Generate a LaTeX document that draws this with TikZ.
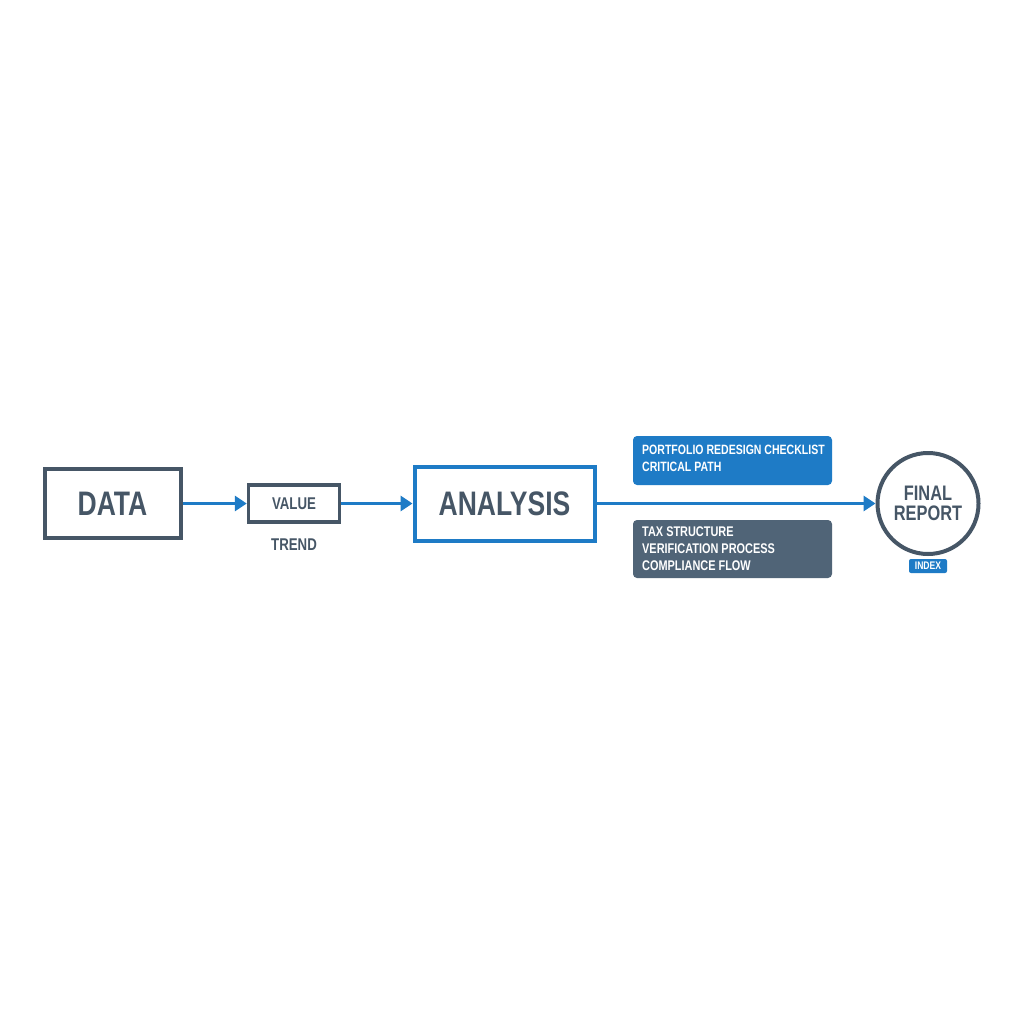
\documentclass[tikz,border=0pt]{standalone}
\usepackage{fontspec}
\setmainfont{Liberation Sans}[FakeStretch=0.78]
\usetikzlibrary{arrows.meta}
\definecolor{dgray}{HTML}{465666}
\definecolor{mblue}{HTML}{1E7BC6}
\definecolor{sgray}{HTML}{506477}
\begin{document}
\begin{tikzpicture}[x=1pt,y=-1pt,
  box/.style={draw=dgray,line width=4pt,inner sep=0pt},
  lbl/.style={text=dgray,font=\bfseries,inner sep=0pt},
  arr/.style={draw=mblue,line width=3pt,-{Triangle[length=12pt,width=15pt]}},
  note/.style={rounded corners=4pt,inner sep=0pt,text=white,font=\bfseries\fontsize{13.5}{17}\selectfont,align=left}]
\useasboundingbox[fill=white] (0,0) rectangle (1024,1024);
\node[box,minimum width=136pt,minimum height=69pt] (data) at (112.5,503.5) {};
\node[lbl,font=\bfseries\fontsize{34}{34}\selectfont] at (data) {DATA};
\node[box,line width=3.5pt,minimum width=91pt,minimum height=37pt] (value) at (294,503.5) {};
\node[lbl,font=\bfseries\fontsize{17}{17}\selectfont] at (value) {VALUE};
\node[lbl,font=\bfseries\fontsize{17}{17}\selectfont] (trend) at (294,545) {TREND};
\node[box,draw=mblue,minimum width=180pt,minimum height=74pt] (analysis) at (504.5,503.5) {};
\node[lbl,font=\bfseries\fontsize{34}{34}\selectfont] at (analysis) {ANALYSIS};
\node[circle,draw=dgray,line width=4pt,minimum size=101pt,inner sep=0pt] (final) at (928,503.5) {};
\node[lbl,align=center,font=\bfseries\fontsize{21}{20}\selectfont] at (final) {FINAL\\REPORT};
\node[fill=mblue,rounded corners=2pt,minimum width=38pt,minimum height=14pt,inner sep=0pt] (index) at (928,566) {};
\node[text=white,font=\bfseries\fontsize{11}{11}\selectfont,inner sep=0pt] at (index) {INDEX};
\node[note,fill=mblue,minimum width=199pt,minimum height=49pt] (pbox) at (732.5,460.5) {};
\node[note,anchor=west] at (642,458) {PORTFOLIO REDESIGN CHECKLIST\\CRITICAL PATH};
\node[note,fill=sgray,minimum width=199pt,minimum height=58pt] (tbox) at (732.5,549) {};
\node[note,anchor=west,font=\bfseries\fontsize{14}{17}\selectfont] at (642,549) {TAX STRUCTURE\\VERIFICATION PROCESS\\COMPLIANCE FLOW};
\draw[arr] (data.east) -- (value.west);
\draw[arr] (value.east) -- (analysis.west);
\draw[arr] (analysis.east) -- (final.west);
\end{tikzpicture}
\end{document}
